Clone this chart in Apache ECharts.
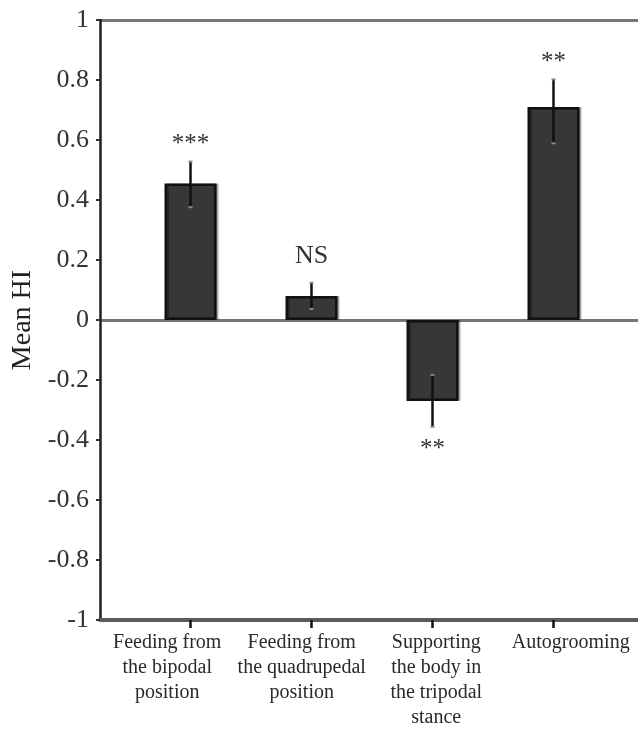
<!DOCTYPE html>
<html><head><meta charset="utf-8">
<script src="https://cdn.jsdelivr.net/npm/echarts@6/dist/echarts.min.js"></script>
<style>html,body{margin:0;padding:0;background:#fff}#c{width:638px;height:730px}</style>
</head><body><div id="c"></div>
<script>
// ---- data ----
const categories = [
  'Feeding from\nthe bipodal\nposition',
  'Feeding from\nthe quadrupedal\nposition',
  'Supporting\nthe body in\nthe tripodal\nstance',
  'Autogrooming'
];
const meanHI = [0.455, 0.08, -0.27, 0.71];
const errLow = [0.376, 0.037, -0.356, 0.589];
const errHigh = [0.528, 0.124, -0.183, 0.802];
const significance = ['***', 'NS', '**', '**'];
const yTickLabels = ['-1','-0.8','-0.6','-0.4','-0.2','0','0.2','0.4','0.6','0.8','1'];
const yMin = -1, yMax = 1, yStep = 0.2;

// ---- chart ----
const FONT = "'Liberation Serif','Times New Roman',serif";
const chart = echarts.init(document.getElementById('c'), null, {renderer: 'canvas'});

const errData = categories.map((c, i) => [i, errLow[i], errHigh[i], meanHI[i]]);

chart.setOption({
  animation: false,
  backgroundColor: '#fff',
  grid: [
    {left: 100, right: 0, top: 20, bottom: 110},
    {left: 130, right: 24, top: 20, bottom: 110}
  ],
  xAxis: [
    {
      type: 'category', gridIndex: 0, data: categories,
      axisLine: {onZero: false, lineStyle: {color: '#5c5c5c', width: 4}},
      axisTick: {show: false},
      axisLabel: {color: '#2a2a2a', fontFamily: FONT, fontSize: 20, lineHeight: 25, margin: 10, interval: 0}
    },
    {
      type: 'category', gridIndex: 1, data: categories,
      axisLine: {show: false, onZero: false},
      axisTick: {show: true, alignWithLabel: true, length: 8, lineStyle: {color: '#111', width: 2.5}},
      axisLabel: {show: false}
    }
  ],
  yAxis: [
    {
      type: 'value', gridIndex: 0, min: yMin, max: yMax, interval: yStep,
      name: 'Mean HI', nameLocation: 'middle', nameGap: 62,
      nameTextStyle: {fontFamily: FONT, fontSize: 28, color: '#222'},
      axisLine: {show: true, lineStyle: {color: '#1e1e1e', width: 2.5}},
      axisTick: {show: true, length: 4, lineStyle: {color: '#333', width: 2}},
      axisLabel: {
        fontFamily: FONT, fontSize: 26, color: '#333', margin: 11,
        formatter: v => yTickLabels[Math.round((v - yMin) / yStep)]
      },
      splitLine: {show: false}
    },
    {
      type: 'value', gridIndex: 0, min: -1, max: 1, interval: 1, position: 'right',
      axisLine: {show: false}, axisTick: {show: false}, axisLabel: {show: false},
      splitLine: {show: true, lineStyle: {color: '#767676', width: 3}}
    },
    {
      type: 'value', gridIndex: 1, min: yMin, max: yMax, show: false
    }
  ],
  series: [
    {
      type: 'bar', xAxisIndex: 1, yAxisIndex: 2, data: meanHI, barWidth: 52,
      itemStyle: {color: '#373737', borderColor: '#111', borderWidth: 2.5,
        shadowColor: 'rgba(0,0,0,0.3)', shadowOffsetX: 2, shadowBlur: 0},
      z: 3
    },
    {
      type: 'custom', xAxisIndex: 1, yAxisIndex: 2, data: errData, z: 5,
      renderItem: (params, api) => {
        const i = api.value(0);
        const lo = api.coord([i, api.value(1)]);
        const hi = api.coord([i, api.value(2)]);
        const positive = api.value(3) >= 0;
        const txt = significance[params.dataIndex];
        const star = txt.indexOf('*') >= 0;
        const ty = positive ? hi[1] - (star ? 17 : 27) : lo[1] + 23;
        const cap = 2;
        return {
          type: 'group',
          children: [
            {type: 'line', shape: {x1: lo[0], y1: lo[1], x2: hi[0], y2: hi[1]},
             style: {stroke: '#111', lineWidth: 2.5}},
            {type: 'line', shape: {x1: hi[0] - cap, y1: hi[1], x2: hi[0] + cap, y2: hi[1]},
             style: {stroke: '#888', lineWidth: 2}},
            {type: 'line', shape: {x1: lo[0] - cap, y1: lo[1], x2: lo[0] + cap, y2: lo[1]},
             style: {stroke: '#888', lineWidth: 2}},
            {type: 'text', x: hi[0], y: ty,
             style: {text: txt, fill: '#333', font: (star ? 25 : 26) + 'px ' + FONT,
               align: 'center', verticalAlign: 'middle'}}
          ]
        };
      }
    }
  ]
});
</script>
</body></html>
